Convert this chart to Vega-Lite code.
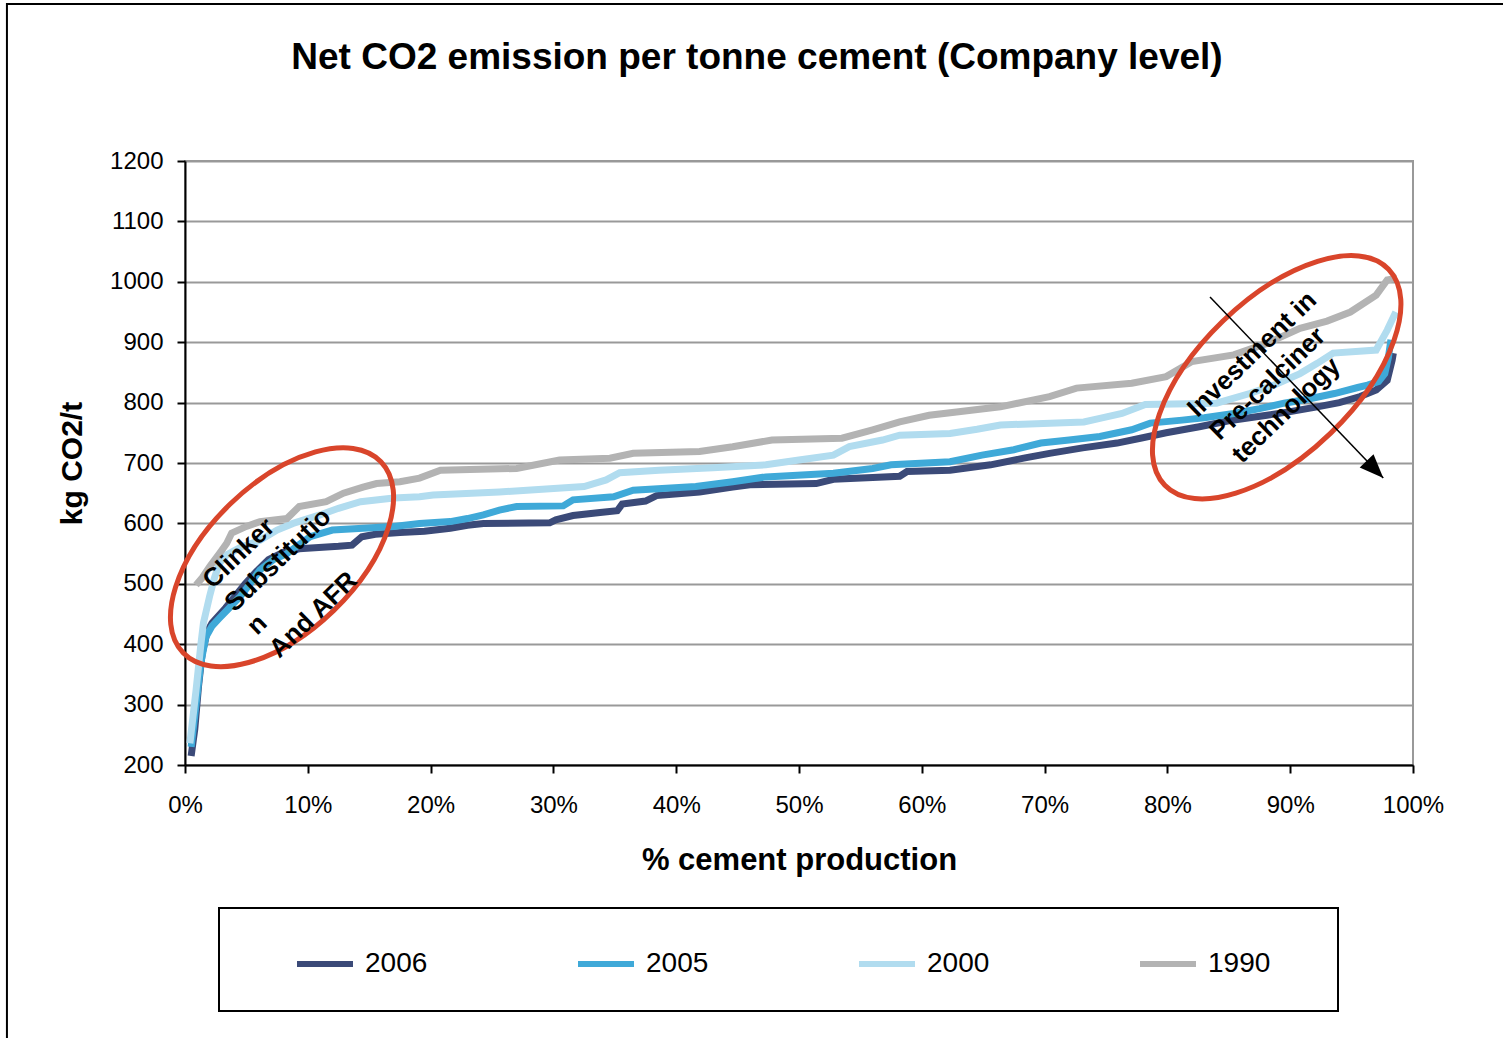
{
  "$schema": "https://vega.github.io/schema/vega-lite/v6.json",
  "width": 1228,
  "height": 604,
  "autosize": {"type": "none"},
  "padding": {"left": 185, "top": 161, "right": 90, "bottom": 273},
  "background": "white",
  "config": {
    "font": "Liberation Sans",
    "view": {"stroke": "#999999", "strokeWidth": 2},
    "legend": {"strokeWidth": 2}
  },
  "title": {
    "text": "Net CO2 emission per tonne cement  (Company level)",
    "fontSize": 37,
    "fontWeight": "bold",
    "color": "black",
    "font": "Liberation Sans",
    "anchor": "middle",
    "frame": "group",
    "offset": -74,
    "dx": -42
  },
  "datasets": {
    "series": [
      {"year": "2006", "pct": 0.5, "co2": 215}, {"year": "2006", "pct": 0.8, "co2": 260}, {"year": "2006", "pct": 1.1, "co2": 330}, {"year": "2006", "pct": 1.4, "co2": 385}, {"year": "2006", "pct": 1.8, "co2": 420}, {"year": "2006", "pct": 2.2, "co2": 435}, {"year": "2006", "pct": 3.3, "co2": 460}, {"year": "2006", "pct": 4.1, "co2": 480}, {"year": "2006", "pct": 4.9, "co2": 500}, {"year": "2006", "pct": 5.8, "co2": 520}, {"year": "2006", "pct": 6.8, "co2": 540}, {"year": "2006", "pct": 8.0, "co2": 552}, {"year": "2006", "pct": 9.3, "co2": 558}, {"year": "2006", "pct": 10.9, "co2": 560}, {"year": "2006", "pct": 12.5, "co2": 562}, {"year": "2006", "pct": 13.6, "co2": 564}, {"year": "2006", "pct": 14.4, "co2": 578}, {"year": "2006", "pct": 15.5, "co2": 582}, {"year": "2006", "pct": 17.5, "co2": 585}, {"year": "2006", "pct": 19.5, "co2": 587}, {"year": "2006", "pct": 21.6, "co2": 592}, {"year": "2006", "pct": 23.0, "co2": 597}, {"year": "2006", "pct": 24.3, "co2": 600}, {"year": "2006", "pct": 29.7, "co2": 601}, {"year": "2006", "pct": 30.2, "co2": 606}, {"year": "2006", "pct": 31.6, "co2": 613}, {"year": "2006", "pct": 33.8, "co2": 618}, {"year": "2006", "pct": 35.2, "co2": 621}, {"year": "2006", "pct": 35.6, "co2": 632}, {"year": "2006", "pct": 37.5, "co2": 637}, {"year": "2006", "pct": 38.4, "co2": 646}, {"year": "2006", "pct": 41.9, "co2": 652}, {"year": "2006", "pct": 44.6, "co2": 660}, {"year": "2006", "pct": 46.0, "co2": 664}, {"year": "2006", "pct": 51.4, "co2": 666}, {"year": "2006", "pct": 52.8, "co2": 673}, {"year": "2006", "pct": 56.0, "co2": 676}, {"year": "2006", "pct": 58.2, "co2": 678}, {"year": "2006", "pct": 58.8, "co2": 686}, {"year": "2006", "pct": 62.3, "co2": 688}, {"year": "2006", "pct": 65.6, "co2": 697}, {"year": "2006", "pct": 68.3, "co2": 708}, {"year": "2006", "pct": 70.4, "co2": 716}, {"year": "2006", "pct": 73.1, "co2": 725}, {"year": "2006", "pct": 75.9, "co2": 733}, {"year": "2006", "pct": 77.8, "co2": 741}, {"year": "2006", "pct": 79.9, "co2": 750}, {"year": "2006", "pct": 82.6, "co2": 760}, {"year": "2006", "pct": 85.0, "co2": 770}, {"year": "2006", "pct": 88.1, "co2": 779}, {"year": "2006", "pct": 90.0, "co2": 785}, {"year": "2006", "pct": 92.2, "co2": 793}, {"year": "2006", "pct": 94.0, "co2": 800}, {"year": "2006", "pct": 95.7, "co2": 810}, {"year": "2006", "pct": 97.0, "co2": 821}, {"year": "2006", "pct": 97.9, "co2": 837}, {"year": "2006", "pct": 98.3, "co2": 870}, {"year": "2006", "pct": 98.4, "co2": 882},
      {"year": "2005", "pct": 0.5, "co2": 230}, {"year": "2005", "pct": 0.9, "co2": 300}, {"year": "2005", "pct": 1.3, "co2": 370}, {"year": "2005", "pct": 1.7, "co2": 412}, {"year": "2005", "pct": 2.2, "co2": 430}, {"year": "2005", "pct": 2.8, "co2": 443}, {"year": "2005", "pct": 3.6, "co2": 460}, {"year": "2005", "pct": 4.5, "co2": 479}, {"year": "2005", "pct": 5.3, "co2": 500}, {"year": "2005", "pct": 6.1, "co2": 523}, {"year": "2005", "pct": 7.2, "co2": 540}, {"year": "2005", "pct": 8.3, "co2": 550}, {"year": "2005", "pct": 9.3, "co2": 565}, {"year": "2005", "pct": 10.2, "co2": 578}, {"year": "2005", "pct": 12.0, "co2": 589}, {"year": "2005", "pct": 14.5, "co2": 592}, {"year": "2005", "pct": 17.0, "co2": 595}, {"year": "2005", "pct": 19.1, "co2": 600}, {"year": "2005", "pct": 21.6, "co2": 603}, {"year": "2005", "pct": 23.0, "co2": 608}, {"year": "2005", "pct": 24.3, "co2": 614}, {"year": "2005", "pct": 25.6, "co2": 622}, {"year": "2005", "pct": 27.0, "co2": 628}, {"year": "2005", "pct": 30.8, "co2": 629}, {"year": "2005", "pct": 31.6, "co2": 639}, {"year": "2005", "pct": 34.9, "co2": 644}, {"year": "2005", "pct": 36.5, "co2": 655}, {"year": "2005", "pct": 41.6, "co2": 661}, {"year": "2005", "pct": 44.6, "co2": 669}, {"year": "2005", "pct": 47.3, "co2": 677}, {"year": "2005", "pct": 52.8, "co2": 683}, {"year": "2005", "pct": 56.0, "co2": 691}, {"year": "2005", "pct": 57.5, "co2": 697}, {"year": "2005", "pct": 62.3, "co2": 702}, {"year": "2005", "pct": 64.9, "co2": 713}, {"year": "2005", "pct": 67.5, "co2": 722}, {"year": "2005", "pct": 69.7, "co2": 733}, {"year": "2005", "pct": 72.0, "co2": 738}, {"year": "2005", "pct": 74.5, "co2": 744}, {"year": "2005", "pct": 77.1, "co2": 755}, {"year": "2005", "pct": 78.6, "co2": 766}, {"year": "2005", "pct": 81.2, "co2": 771}, {"year": "2005", "pct": 83.0, "co2": 775}, {"year": "2005", "pct": 85.4, "co2": 782}, {"year": "2005", "pct": 87.5, "co2": 790}, {"year": "2005", "pct": 89.5, "co2": 799}, {"year": "2005", "pct": 91.5, "co2": 806}, {"year": "2005", "pct": 93.6, "co2": 815}, {"year": "2005", "pct": 95.5, "co2": 825}, {"year": "2005", "pct": 96.3, "co2": 829}, {"year": "2005", "pct": 97.2, "co2": 835}, {"year": "2005", "pct": 97.7, "co2": 848}, {"year": "2005", "pct": 98.0, "co2": 875}, {"year": "2005", "pct": 98.2, "co2": 904},
      {"year": "2000", "pct": 0.4, "co2": 236}, {"year": "2000", "pct": 0.9, "co2": 324}, {"year": "2000", "pct": 1.3, "co2": 401}, {"year": "2000", "pct": 1.5, "co2": 435}, {"year": "2000", "pct": 2.0, "co2": 479}, {"year": "2000", "pct": 2.4, "co2": 510}, {"year": "2000", "pct": 2.8, "co2": 534}, {"year": "2000", "pct": 3.4, "co2": 548}, {"year": "2000", "pct": 4.5, "co2": 560}, {"year": "2000", "pct": 6.1, "co2": 572}, {"year": "2000", "pct": 7.5, "co2": 589}, {"year": "2000", "pct": 8.8, "co2": 600}, {"year": "2000", "pct": 11.0, "co2": 614}, {"year": "2000", "pct": 12.5, "co2": 625}, {"year": "2000", "pct": 14.3, "co2": 636}, {"year": "2000", "pct": 17.0, "co2": 642}, {"year": "2000", "pct": 19.1, "co2": 644}, {"year": "2000", "pct": 20.2, "co2": 647}, {"year": "2000", "pct": 25.6, "co2": 652}, {"year": "2000", "pct": 32.5, "co2": 661}, {"year": "2000", "pct": 34.3, "co2": 672}, {"year": "2000", "pct": 35.4, "co2": 684}, {"year": "2000", "pct": 38.6, "co2": 688}, {"year": "2000", "pct": 43.0, "co2": 692}, {"year": "2000", "pct": 47.3, "co2": 697}, {"year": "2000", "pct": 50.0, "co2": 705}, {"year": "2000", "pct": 52.8, "co2": 713}, {"year": "2000", "pct": 54.1, "co2": 727}, {"year": "2000", "pct": 56.8, "co2": 738}, {"year": "2000", "pct": 58.2, "co2": 746}, {"year": "2000", "pct": 62.3, "co2": 749}, {"year": "2000", "pct": 64.5, "co2": 756}, {"year": "2000", "pct": 66.4, "co2": 763}, {"year": "2000", "pct": 73.2, "co2": 768}, {"year": "2000", "pct": 74.5, "co2": 774}, {"year": "2000", "pct": 76.3, "co2": 782}, {"year": "2000", "pct": 78.2, "co2": 797}, {"year": "2000", "pct": 84.0, "co2": 799}, {"year": "2000", "pct": 86.7, "co2": 815}, {"year": "2000", "pct": 88.8, "co2": 830}, {"year": "2000", "pct": 90.8, "co2": 848}, {"year": "2000", "pct": 92.2, "co2": 865}, {"year": "2000", "pct": 93.5, "co2": 882}, {"year": "2000", "pct": 97.0, "co2": 887}, {"year": "2000", "pct": 97.9, "co2": 920}, {"year": "2000", "pct": 98.6, "co2": 950},
      {"year": "1990", "pct": 0.9, "co2": 498}, {"year": "1990", "pct": 1.4, "co2": 510}, {"year": "1990", "pct": 2.0, "co2": 528}, {"year": "1990", "pct": 2.8, "co2": 550}, {"year": "1990", "pct": 3.4, "co2": 567}, {"year": "1990", "pct": 3.8, "co2": 584}, {"year": "1990", "pct": 5.0, "co2": 595}, {"year": "1990", "pct": 6.1, "co2": 603}, {"year": "1990", "pct": 8.3, "co2": 608}, {"year": "1990", "pct": 9.3, "co2": 628}, {"year": "1990", "pct": 11.5, "co2": 636}, {"year": "1990", "pct": 12.9, "co2": 650}, {"year": "1990", "pct": 14.5, "co2": 660}, {"year": "1990", "pct": 15.6, "co2": 666}, {"year": "1990", "pct": 17.5, "co2": 669}, {"year": "1990", "pct": 19.1, "co2": 675}, {"year": "1990", "pct": 20.8, "co2": 688}, {"year": "1990", "pct": 27.0, "co2": 691}, {"year": "1990", "pct": 30.5, "co2": 705}, {"year": "1990", "pct": 34.6, "co2": 708}, {"year": "1990", "pct": 36.5, "co2": 716}, {"year": "1990", "pct": 41.9, "co2": 719}, {"year": "1990", "pct": 44.6, "co2": 727}, {"year": "1990", "pct": 47.8, "co2": 738}, {"year": "1990", "pct": 53.5, "co2": 741}, {"year": "1990", "pct": 56.0, "co2": 755}, {"year": "1990", "pct": 58.2, "co2": 768}, {"year": "1990", "pct": 60.6, "co2": 779}, {"year": "1990", "pct": 63.0, "co2": 785}, {"year": "1990", "pct": 66.4, "co2": 793}, {"year": "1990", "pct": 70.4, "co2": 810}, {"year": "1990", "pct": 72.6, "co2": 824}, {"year": "1990", "pct": 77.1, "co2": 832}, {"year": "1990", "pct": 79.9, "co2": 843}, {"year": "1990", "pct": 82.0, "co2": 868}, {"year": "1990", "pct": 85.4, "co2": 879}, {"year": "1990", "pct": 88.1, "co2": 898}, {"year": "1990", "pct": 90.8, "co2": 923}, {"year": "1990", "pct": 93.0, "co2": 935}, {"year": "1990", "pct": 94.9, "co2": 950}, {"year": "1990", "pct": 97.0, "co2": 978}, {"year": "1990", "pct": 97.9, "co2": 1003}, {"year": "1990", "pct": 98.7, "co2": 1006}
    ],
    "notes": [
      {"pct": 2.25, "co2": 490, "label": "Clinker\nSubstitutio\nn\nAnd AFR"},
      {"pct": 82.45, "co2": 774, "label": "Investment in\nPre-calciner\ntechnology"}
    ]
  },
  "layer": [
    {
      "data": {"name": "series"},
      "mark": {"type": "line", "strokeWidth": 7, "interpolate": "linear"},
      "encoding": {
        "x": {
          "field": "pct", "type": "quantitative",
          "scale": {"domain": [0, 100]},
          "axis": {
            "title": "% cement production",
            "values": [0, 10, 20, 30, 40, 50, 60, 70, 80, 90, 100],
            "labelExpr": "datum.value + '%'",
            "grid": false,
            "domainColor": "black", "domainWidth": 2,
            "tickColor": "black", "tickWidth": 2, "tickSize": 8,
            "labelFontSize": 24, "labelColor": "black", "labelPadding": 20,
            "labelFlush": false, "labelOverlap": false,
            "titleFontSize": 31, "titleFontWeight": "bold", "titleColor": "black", "titlePadding": 28
          }
        },
        "y": {
          "field": "co2", "type": "quantitative",
          "scale": {"domain": [200, 1200]},
          "axis": {
            "title": "kg CO2/t",
            "values": [200, 300, 400, 500, 600, 700, 800, 900, 1000, 1100, 1200],
            "format": "d",
            "grid": true, "gridColor": "#999999", "gridWidth": 2,
            "domainColor": "black", "domainWidth": 2,
            "tickColor": "black", "tickWidth": 2, "tickSize": 8,
            "labelFontSize": 24, "labelColor": "black", "labelPadding": 14,
            "labelFlush": false, "labelOverlap": false,
            "titleFontSize": 30, "titleFontWeight": "bold", "titleColor": "black", "titlePadding": 22
          }
        },
        "color": {
          "field": "year", "type": "nominal",
          "scale": {"domain": ["2006", "2005", "2000", "1990"], "range": ["#3b4a78", "#3fa9d8", "#b1dcef", "#b3b3b3"]},
          "legend": {
            "orient": "none", "legendX": 34, "legendY": 747,
            "direction": "horizontal", "columns": 4,
            "title": " ", "titleOrient": "right", "titlePadding": 43, "titleFontSize": 60,
            "padding": 25, "symbolOffset": 50,
            "strokeColor": "black",
            "symbolType": "stroke", "symbolSize": 3136, "symbolStrokeWidth": 6,
            "labelFontSize": 28, "labelFont": "Liberation Sans", "labelColor": "black",
            "labelOffset": 9, "columnPadding": 97, "labelLimit": 300
          }
        }
      }
    },
    {
      "data": {"values": [{"pct": 7.9, "co2": 544}]},
      "mark": {"type": "point", "shape": "M1,0C1,0.2982,0.5523,0.54,0,0.54C-0.5523,0.54,-1,0.2982,-1,0C-1,-0.2982,-0.5523,-0.54,0,-0.54C0.5523,-0.54,1,-0.2982,1,0Z", "size": 75625, "angle": 316, "filled": false, "stroke": "#d9452b", "strokeWidth": 5, "opacity": 1},
      "encoding": {
        "x": {"field": "pct", "type": "quantitative", "scale": {"domain": [0, 100]}},
        "y": {"field": "co2", "type": "quantitative", "scale": {"domain": [200, 1200]}}
      }
    },
    {
      "data": {"values": [{"pct": 88.9, "co2": 842}]},
      "mark": {"type": "point", "shape": "M1,0C1,0.2762,0.5523,0.5,0,0.5C-0.5523,0.5,-1,0.2762,-1,0C-1,-0.2762,-0.5523,-0.5,0,-0.5C0.5523,-0.5,1,-0.2762,1,0Z", "size": 96721, "angle": 316, "filled": false, "stroke": "#d9452b", "strokeWidth": 5, "opacity": 1},
      "encoding": {
        "x": {"field": "pct", "type": "quantitative", "scale": {"domain": [0, 100]}},
        "y": {"field": "co2", "type": "quantitative", "scale": {"domain": [200, 1200]}}
      }
    },
    {
      "data": {"values": [{"pct": 83.47, "co2": 975, "pct2": 97.58, "co22": 675}]},
      "mark": {"type": "rule", "color": "black", "strokeWidth": 1.5},
      "encoding": {
        "x": {"field": "pct", "type": "quantitative", "scale": {"domain": [0, 100]}},
        "y": {"field": "co2", "type": "quantitative", "scale": {"domain": [200, 1200]}},
        "x2": {"field": "pct2"},
        "y2": {"field": "co22"}
      }
    },
    {
      "data": {"values": [{"pct": 97.58, "co2": 675}]},
      "mark": {"type": "point", "shape": "M0,0L-1,-0.4L-1,0.4Z", "size": 2304, "angle": 46, "filled": true, "color": "black", "opacity": 1},
      "encoding": {
        "x": {"field": "pct", "type": "quantitative", "scale": {"domain": [0, 100]}},
        "y": {"field": "co2", "type": "quantitative", "scale": {"domain": [200, 1200]}}
      }
    },
    {
      "data": {"name": "notes"},
      "mark": {"type": "text", "align": "left", "baseline": "alphabetic", "angle": 316, "fontSize": 26, "fontWeight": "bold", "lineHeight": 32, "lineBreak": "\n", "color": "black"},
      "encoding": {
        "x": {"field": "pct", "type": "quantitative", "scale": {"domain": [0, 100]}},
        "y": {"field": "co2", "type": "quantitative", "scale": {"domain": [200, 1200]}},
        "text": {"field": "label"}
      }
    },
    {
      "data": {"values": [{"pct": -14.5, "co2": 1460, "pct2": 140, "co22": -700}]},
      "mark": {"type": "rect", "filled": false, "color": "black", "strokeWidth": 2},
      "encoding": {
        "x": {"field": "pct", "type": "quantitative", "scale": {"domain": [0, 100]}},
        "y": {"field": "co2", "type": "quantitative", "scale": {"domain": [200, 1200]}},
        "x2": {"field": "pct2"},
        "y2": {"field": "co22"}
      }
    }
  ]
}
